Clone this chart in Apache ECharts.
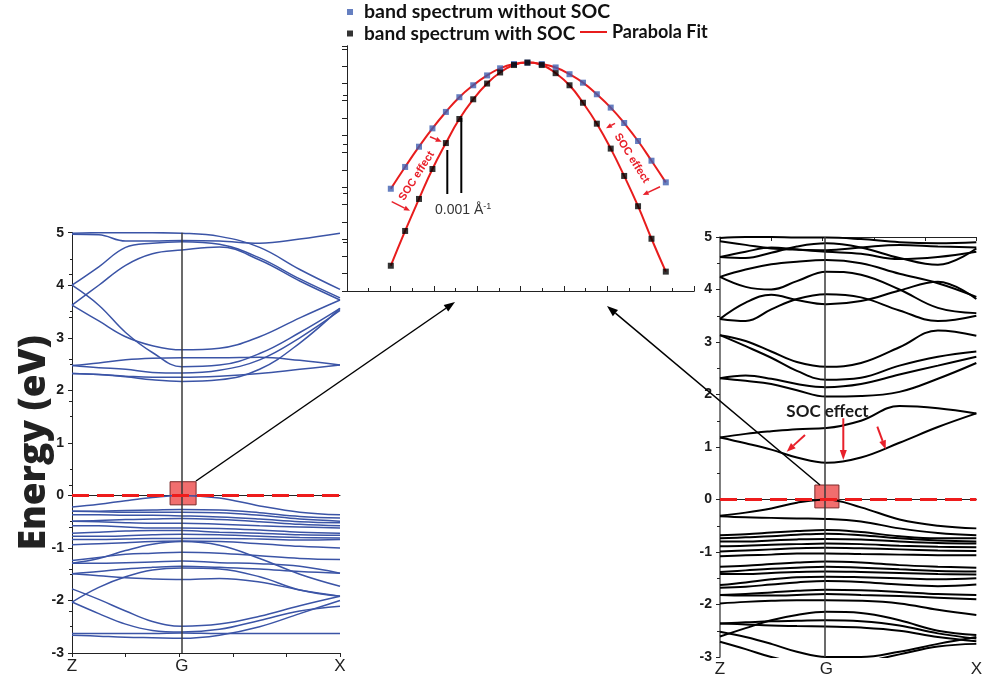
<!DOCTYPE html>
<html>
<head>
<meta charset="utf-8">
<script src="https://cdn.jsdelivr.net/npm/echarts@6/dist/echarts.min.js"></script>
<style>
html, body { margin: 0; padding: 0; background: #fff; }
#chart { width: 985px; height: 682px; }
</style>
</head>
<body>
<div id="chart"></div>
<script>
// k path, Z = 0 ... X = 1
const kLeft = [0, 0.1, 0.2, 0.3, 0.41, 0.55, 0.7, 0.85, 1];
const kRight = [0, 0.1, 0.2, 0.3, 0.415, 0.55, 0.7, 0.85, 1];
const pathLabels = ['Z', 'G', 'X'];
const pathTicksLeft = [0, 0.41, 1];
const pathTicksRight = [0, 0.415, 1];

// band energies without SOC (eV), one row per band, sampled at kLeft
const bandsNoSoc = [
  [4.97, 4.96, 4.84, 4.84, 4.85, 4.84, 4.80, 4.88, 4.99],
  [4.99, 5.00, 5.00, 5.00, 4.99, 4.93, 4.72, 4.30, 3.92],
  [4.00, 4.35, 4.72, 4.80, 4.83, 4.78, 4.52, 4.12, 3.76],
  [3.62, 4.00, 4.38, 4.60, 4.67, 4.73, 4.48, 4.08, 3.72],
  [4.00, 3.62, 3.10, 2.72, 2.45, 2.48, 2.70, 3.10, 3.56],
  [3.62, 3.32, 3.02, 2.85, 2.77, 2.80, 3.02, 3.38, 3.72],
  [2.47, 2.52, 2.58, 2.61, 2.62, 2.62, 2.63, 2.57, 2.48],
  [2.47, 2.43, 2.40, 2.34, 2.33, 2.38, 2.58, 3.00, 3.52],
  [2.32, 2.30, 2.27, 2.25, 2.25, 2.27, 2.32, 2.40, 2.48],
  [2.32, 2.30, 2.26, 2.20, 2.17, 2.20, 2.40, 2.90, 3.56],
  [-0.22, -0.17, -0.10, -0.04, 0.00, -0.05, -0.20, -0.32, -0.37],
  [-0.30, -0.30, -0.29, -0.28, -0.27, -0.28, -0.33, -0.40, -0.43],
  [-0.30, -0.31, -0.32, -0.32, -0.32, -0.33, -0.38, -0.45, -0.49],
  [-0.37, -0.37, -0.38, -0.38, -0.39, -0.41, -0.45, -0.50, -0.52],
  [-0.49, -0.48, -0.46, -0.45, -0.44, -0.46, -0.50, -0.55, -0.58],
  [-0.49, -0.50, -0.52, -0.53, -0.53, -0.55, -0.58, -0.60, -0.62],
  [-0.58, -0.58, -0.60, -0.62, -0.62, -0.63, -0.66, -0.70, -0.72],
  [-0.72, -0.70, -0.68, -0.67, -0.67, -0.70, -0.72, -0.75, -0.76],
  [-0.78, -0.78, -0.77, -0.75, -0.74, -0.75, -0.78, -0.80, -0.81],
  [-0.84, -0.84, -0.83, -0.82, -0.82, -0.82, -0.83, -0.85, -0.84],
  [-0.94, -0.92, -0.90, -0.88, -0.87, -0.88, -0.92, -0.97, -1.00],
  [-1.29, -1.20, -1.05, -0.93, -0.88, -0.95, -1.20, -1.50, -1.73],
  [-1.24, -1.18, -1.12, -1.10, -1.08, -1.10, -1.15, -1.20, -1.22],
  [-1.29, -1.29, -1.28, -1.27, -1.25, -1.28, -1.30, -1.35, -1.48],
  [-1.49, -1.45, -1.40, -1.37, -1.35, -1.37, -1.40, -1.45, -1.48],
  [-1.49, -1.53, -1.57, -1.59, -1.60, -1.58, -1.65, -1.80, -1.92],
  [-2.03, -1.75, -1.55, -1.42, -1.38, -1.40, -1.55, -1.80, -1.92],
  [-1.78, -1.98, -2.20, -2.40, -2.49, -2.45, -2.30, -2.10, -1.92],
  [-2.03, -2.25, -2.45, -2.57, -2.60, -2.55, -2.38, -2.20, -2.11],
  [-2.63, -2.63, -2.63, -2.63, -2.62, -2.63, -2.63, -2.63, -2.63],
  [-2.66, -2.68, -2.70, -2.71, -2.72, -2.66, -2.50, -2.25, -2.00]
];

// band energies with SOC (eV), sampled at kRight
const bandsSoc = [
  [4.98, 5.00, 5.00, 4.99, 4.99, 4.96, 4.90, 4.88, 4.90],
  [4.92, 4.85, 4.78, 4.76, 4.75, 4.80, 4.85, 4.82, 4.80],
  [4.62, 4.60, 4.70, 4.82, 4.88, 4.80, 4.60, 4.47, 4.78],
  [4.62, 4.72, 4.80, 4.76, 4.72, 4.68, 4.58, 4.62, 4.72],
  [4.24, 4.38, 4.48, 4.53, 4.56, 4.50, 4.30, 4.12, 3.86],
  [4.24, 4.05, 4.00, 4.16, 4.34, 4.28, 4.00, 3.65, 3.55],
  [3.44, 3.75, 3.90, 3.80, 3.72, 3.78, 3.98, 4.15, 3.82],
  [3.44, 3.40, 3.62, 3.82, 3.91, 3.85, 3.60, 3.40, 3.50],
  [3.13, 3.02, 2.82, 2.62, 2.53, 2.60, 2.90, 3.22, 3.12],
  [3.13, 2.92, 2.70, 2.45, 2.28, 2.32, 2.55, 2.72, 2.82],
  [2.31, 2.36, 2.30, 2.20, 2.14, 2.20, 2.38, 2.55, 2.72],
  [2.31, 2.26, 2.20, 2.08, 1.96, 1.97, 2.05, 2.30, 2.60],
  [1.18, 1.25, 1.30, 1.34, 1.36, 1.50, 1.78, 1.74, 1.64],
  [1.18, 1.07, 0.95, 0.80, 0.70, 0.80, 1.08, 1.38, 1.64],
  [-0.31, -0.25, -0.17, -0.06, 0.00, -0.15, -0.38, -0.50, -0.55],
  [-0.32, -0.34, -0.35, -0.36, -0.37, -0.42, -0.55, -0.64, -0.68],
  [-0.68, -0.66, -0.63, -0.60, -0.58, -0.62, -0.70, -0.74, -0.74],
  [-0.74, -0.72, -0.70, -0.67, -0.65, -0.68, -0.74, -0.78, -0.80],
  [-0.80, -0.80, -0.78, -0.76, -0.75, -0.76, -0.80, -0.83, -0.84],
  [-0.89, -0.88, -0.86, -0.85, -0.84, -0.85, -0.88, -0.90, -0.91],
  [-0.99, -0.97, -0.95, -0.93, -0.92, -0.93, -0.95, -0.97, -0.98],
  [-1.08, -1.06, -1.05, -1.03, -1.03, -1.04, -1.05, -1.06, -1.06],
  [-1.28, -1.26, -1.23, -1.20, -1.18, -1.20, -1.25, -1.28, -1.30],
  [-1.38, -1.35, -1.32, -1.30, -1.28, -1.30, -1.33, -1.36, -1.37],
  [-1.42, -1.42, -1.40, -1.38, -1.37, -1.38, -1.40, -1.42, -1.43],
  [-1.63, -1.58, -1.52, -1.48, -1.47, -1.48, -1.50, -1.52, -1.50],
  [-1.68, -1.66, -1.62, -1.58, -1.55, -1.57, -1.62, -1.65, -1.62],
  [-1.82, -1.80, -1.77, -1.74, -1.72, -1.73, -1.76, -1.80, -1.82],
  [-1.82, -1.83, -1.83, -1.82, -1.80, -1.82, -1.84, -1.87, -1.90],
  [-1.98, -1.95, -1.93, -1.92, -1.92, -1.93, -1.98, -2.10, -2.20],
  [-2.61, -2.45, -2.30, -2.20, -2.14, -2.16, -2.30, -2.50, -2.58],
  [-2.36, -2.34, -2.32, -2.31, -2.30, -2.32, -2.40, -2.55, -2.65],
  [-2.36, -2.38, -2.40, -2.41, -2.42, -2.44, -2.50, -2.62, -2.70],
  [-2.52, -2.62, -2.75, -2.90, -3.00, -3.00, -2.90, -2.75, -2.62],
  [-2.71, -2.85, -3.00, -3.10, -3.15, -3.10, -2.95, -2.80, -2.75]
];

// zoom on the valence band top near G (plot units, no labels in the figure)
const kZoom = [1.01, 1.34, 1.66, 1.97, 2.28, 2.59, 2.91, 3.23, 3.53, 3.85, 4.16,
               4.49, 4.81, 5.13, 5.44, 5.76, 6.08, 6.39, 6.71, 7.02, 7.35];
const eZoomNoSoc = [5.91, 7.17, 8.34, 9.40, 10.35, 11.20, 11.89, 12.46, 12.87, 13.12, 13.20,
                    13.12, 12.92, 12.53, 12.04, 11.37, 10.60, 9.71, 8.67, 7.53, 6.28];
const eZoomSoc = [1.46, 3.47, 5.32, 7.05, 8.55, 9.94, 11.08, 11.99, 12.63, 13.06, 13.20,
                  13.06, 12.59, 11.89, 10.88, 9.67, 8.23, 6.65, 4.90, 3.02, 1.12];

const nameNoSoc = 'band spectrum without SOC';
const nameSoc = 'band spectrum with SOC';
const nameFit = 'Parabola Fit';

const chart = echarts.init(document.getElementById('chart'));

const AX = '#222';
const tickFont = { fontFamily: 'Liberation Sans', fontWeight: 'bold', fontSize: 14, color: '#1a1a1a' };

function bandSeries(bands, ks, xi, yi, color, width) {
  return bands.map(b => ({
    type: 'line', xAxisIndex: xi, yAxisIndex: yi,
    data: b.map((e, i) => [ks[i], e]),
    smooth: 0.4, showSymbol: false, silent: true, z: 2,
    lineStyle: { color: color, width: width }
  }));
}

function markerSeries(xi, yi, gPos, box) {
  return [{
    type: 'line', xAxisIndex: xi, yAxisIndex: yi, data: [], z: 1, silent: true,
    markLine: {
      silent: true, symbol: 'none', label: { show: false }, animation: false,
      data: [{ xAxis: gPos, lineStyle: { color: '#3a3a3a', width: 1.5, type: 'solid' } }]
    }
  }, {
    type: 'line', xAxisIndex: xi, yAxisIndex: yi, data: [], z: 5, silent: true,
    markArea: {
      silent: true, animation: false,
      itemStyle: { color: 'rgba(238,78,78,0.82)', borderColor: '#7a2a2a', borderWidth: 1 },
      data: [[{ coord: [box[0], box[1]] }, { coord: [box[2], box[3]] }]]
    },
    markLine: {
      silent: true, symbol: 'none', label: { show: false }, animation: false,
      data: [{ yAxis: 0, lineStyle: { color: '#ee1c1c', width: 3, type: [17, 8] } }]
    }
  }];
}

function arrow(x1, y1, x2, y2, color, w, hl, hw) {
  const a = Math.atan2(y2 - y1, x2 - x1);
  const bx = x2 - hl * Math.cos(a), by = y2 - hl * Math.sin(a);
  const px = -Math.sin(a) * hw / 2, py = Math.cos(a) * hw / 2;
  return [
    { type: 'line', silent: true, z: 20, shape: { x1: x1, y1: y1, x2: bx, y2: by }, style: { stroke: color, lineWidth: w } },
    { type: 'polygon', silent: true, z: 20, shape: { points: [[x2, y2], [bx + px, by + py], [bx - px, by - py]] }, style: { fill: color } }
  ];
}

const RED = '#e8202a';

const graphics = [].concat(
  arrow(196, 481, 455, 302, '#000', 1.5, 11, 8),
  arrow(820, 485, 607, 306, '#000', 1.5, 11, 8),
  arrow(391.7, 201.7, 410, 210.7, RED, 1.5, 6, 5),
  arrow(430, 136.7, 441.7, 141.7, RED, 1.5, 6, 5),
  arrow(615, 123.3, 606, 128.3, RED, 1.5, 6, 5),
  arrow(660, 186.7, 642.7, 195, RED, 1.5, 6, 5),
  arrow(805, 435, 786.7, 451.7, RED, 2, 9, 7),
  arrow(843.3, 418.3, 843.3, 460, RED, 2, 10, 7),
  arrow(877.3, 426.7, 885.7, 449.3, RED, 2, 9, 7),
  [
    { type: 'line', silent: true, z: 20, shape: { x1: 447.3, y1: 150, x2: 447.3, y2: 194 }, style: { stroke: '#000', lineWidth: 2 } },
    { type: 'line', silent: true, z: 20, shape: { x1: 461.3, y1: 118, x2: 461.3, y2: 193 }, style: { stroke: '#000', lineWidth: 2 } },
    { type: 'text', silent: true, z: 21, x: 435, y: 210,
      style: { text: '0.001 Å{s|-1}', fill: '#333', font: '14px Liberation Sans', textAlign: 'left', textVerticalAlign: 'middle',
               rich: { s: { fontSize: 9, fontFamily: 'Liberation Sans', fill: '#333', verticalAlign: 'top', padding: [0, 0, 6, 0] } } } },
    { type: 'text', silent: true, z: 21, x: 416.7, y: 176, rotation: 1.0,
      style: { text: 'SOC effect', fill: RED, font: 'bold 11px Liberation Sans', textAlign: 'center', textVerticalAlign: 'middle' } },
    { type: 'text', silent: true, z: 21, x: 631.7, y: 158.3, rotation: -1.01,
      style: { text: 'SOC effect', fill: RED, font: 'bold 11px Liberation Sans', textAlign: 'center', textVerticalAlign: 'middle' } },
    { type: 'text', silent: true, z: 21, x: 827.5, y: 411.7,
      style: { text: 'SOC effect', fill: '#1a1a1a', font: 'bold 17px Lato', textAlign: 'center', textVerticalAlign: 'middle' } }
  ]
);

const legendText = { fontFamily: 'Lato', fontWeight: 'bold', fontSize: 19.5, color: '#111', padding: [0, 0, 0, 6] };

const option = {
  backgroundColor: '#fff',
  animation: false,
  legend: [
    { left: 347, top: 2, padding: 0, icon: 'rect', itemWidth: 6, itemHeight: 6, selectedMode: false,
      data: [nameNoSoc], textStyle: legendText },
    { left: 347, top: 24, padding: 0, icon: 'rect', itemWidth: 6, itemHeight: 6, selectedMode: false,
      data: [nameSoc], textStyle: Object.assign({}, legendText, { fontSize: 19 }) },
    { left: 580, top: 23, padding: 0, icon: 'rect', itemWidth: 27, itemHeight: 2, selectedMode: false,
      data: [nameFit], textStyle: { fontFamily: 'Lato', fontWeight: 'bold', fontSize: 18, color: '#111', padding: [0, 0, 0, 0] } }
  ],
  grid: [
    { left: 72, top: 232.7, width: 268, height: 420.3 },
    { left: 347, top: 46, width: 347, height: 245 },
    { left: 720, top: 237, width: 265, height: 420 }
  ],
  xAxis: [
    { gridIndex: 0, type: 'value', min: 0, max: 1, position: 'bottom',
      axisLine: { lineStyle: { color: AX, width: 1 } }, axisTick: { show: false }, splitLine: { show: false },
      axisLabel: { customValues: pathTicksLeft, margin: 5, fontFamily: 'Liberation Sans', fontSize: 17, color: '#222',
                   formatter: v => pathLabels[pathTicksLeft.indexOf(v)] } },
    { gridIndex: 0, type: 'value', min: 0, max: 1, interval: 0.2, position: 'top',
      axisLine: { lineStyle: { color: AX, width: 1 } }, axisTick: { inside: true, length: 4, lineStyle: { color: AX } },
      axisLabel: { show: false }, splitLine: { show: false } },
    { gridIndex: 1, type: 'value', min: 0, max: 8, interval: 1, position: 'bottom',
      axisLine: { lineStyle: { color: AX, width: 1 } },
      axisTick: { inside: true, length: 5, lineStyle: { color: AX } },
      minorTick: { show: true, splitNumber: 2, length: 3, lineStyle: { color: AX } },
      axisLabel: { show: false }, splitLine: { show: false } },
    { gridIndex: 1, type: 'value', min: 0, max: 8, position: 'top',
      axisLine: { lineStyle: { color: AX, width: 1 } }, axisTick: { show: false },
      axisLabel: { show: false }, splitLine: { show: false } },
    { gridIndex: 2, type: 'value', min: 0, max: 1, position: 'bottom',
      axisLine: { lineStyle: { color: AX, width: 1 } }, axisTick: { show: false }, splitLine: { show: false },
      axisLabel: { customValues: pathTicksRight, margin: 4, fontFamily: 'Liberation Sans', fontSize: 17, color: '#222',
                   formatter: v => pathLabels[pathTicksRight.indexOf(v)] } },
    { gridIndex: 2, type: 'value', min: 0, max: 1, interval: 0.2, position: 'top',
      axisLine: { lineStyle: { color: AX, width: 1 } }, axisTick: { inside: true, length: 4, lineStyle: { color: AX } },
      axisLabel: { show: false }, splitLine: { show: false } }
  ],
  yAxis: [
    { gridIndex: 0, type: 'value', min: -3, max: 5, interval: 1, position: 'left',
      name: 'Energy (eV)', nameLocation: 'middle', nameGap: 19, nameMoveOverlap: false,
      nameTextStyle: { fontFamily: 'Open Sans', fontWeight: 800, fontSize: 37, color: '#222' },
      axisLine: { show: true, lineStyle: { color: AX, width: 1 } },
      axisTick: { show: true, length: 4, lineStyle: { color: AX } },
      minorTick: { show: true, splitNumber: 2, length: 2, lineStyle: { color: AX } },
      axisLabel: Object.assign({ margin: 8 }, tickFont), splitLine: { show: false } },
    { gridIndex: 0, type: 'value', min: 0, max: 10, interval: 1, position: 'right',
      axisLine: { show: true, lineStyle: { color: AX, width: 1 } },
      axisTick: { show: true, inside: true, length: 3, lineStyle: { color: AX } },
      axisLabel: { show: false }, splitLine: { show: false } },
    { gridIndex: 1, type: 'value', min: 0, max: 14.16, interval: 1, position: 'left',
      axisLine: { show: true, lineStyle: { color: AX, width: 1 } },
      axisTick: { show: true, length: 5, lineStyle: { color: AX } },
      axisLabel: { show: false }, splitLine: { show: false } },
    { gridIndex: 1, type: 'value', min: 0, max: 5, interval: 1, position: 'right',
      axisLine: { show: true, lineStyle: { color: AX, width: 1 } },
      axisTick: { show: true, inside: true, length: 4, lineStyle: { color: AX } },
      axisLabel: { show: false }, splitLine: { show: false } },
    { gridIndex: 2, type: 'value', min: -3, max: 5, interval: 1, position: 'left',
      axisLine: { show: true, lineStyle: { color: '#555', width: 1.5 } },
      axisTick: { show: true, length: 4, lineStyle: { color: AX } },
      minorTick: { show: true, splitNumber: 2, length: 3, lineStyle: { color: AX } },
      axisLabel: Object.assign({ margin: 8 }, tickFont), splitLine: { show: false } }
  ],
  series: [].concat(
    markerSeries(0, 0, 0.41, [0.366, 0.26, 0.463, -0.18]),
    bandSeries(bandsNoSoc, kLeft, 0, 0, '#3b54a6', 1.5),
    markerSeries(4, 4, 0.415, [0.37, 0.276, 0.464, -0.16]),
    bandSeries(bandsSoc, kRight, 4, 4, '#000', 2),
    [
      { name: nameFit, type: 'line', xAxisIndex: 2, yAxisIndex: 2, smooth: true, showSymbol: false, z: 3,
        color: '#e81c1c', lineStyle: { color: '#e81c1c', width: 2 },
        data: kZoom.map((k, i) => [k, eZoomNoSoc[i]]) },
      { name: nameFit, type: 'line', xAxisIndex: 2, yAxisIndex: 2, smooth: true, showSymbol: false, z: 3,
        color: '#e81c1c', lineStyle: { color: '#e81c1c', width: 2 },
        data: kZoom.map((k, i) => [k, eZoomSoc[i]]) },
      { name: nameNoSoc, type: 'scatter', xAxisIndex: 2, yAxisIndex: 2, symbol: 'rect', symbolSize: 6, z: 4,
        itemStyle: { color: '#3f5fb0' }, data: kZoom.map((k, i) => [k, eZoomNoSoc[i]]) },
      { name: nameSoc, type: 'scatter', xAxisIndex: 2, yAxisIndex: 2, symbol: 'rect', symbolSize: 6, z: 4,
        itemStyle: { color: '#000' }, data: kZoom.map((k, i) => [k, eZoomSoc[i]]) }
    ]
  ),
  graphic: graphics
};

chart.setOption(option);
</script>
</body>
</html>
